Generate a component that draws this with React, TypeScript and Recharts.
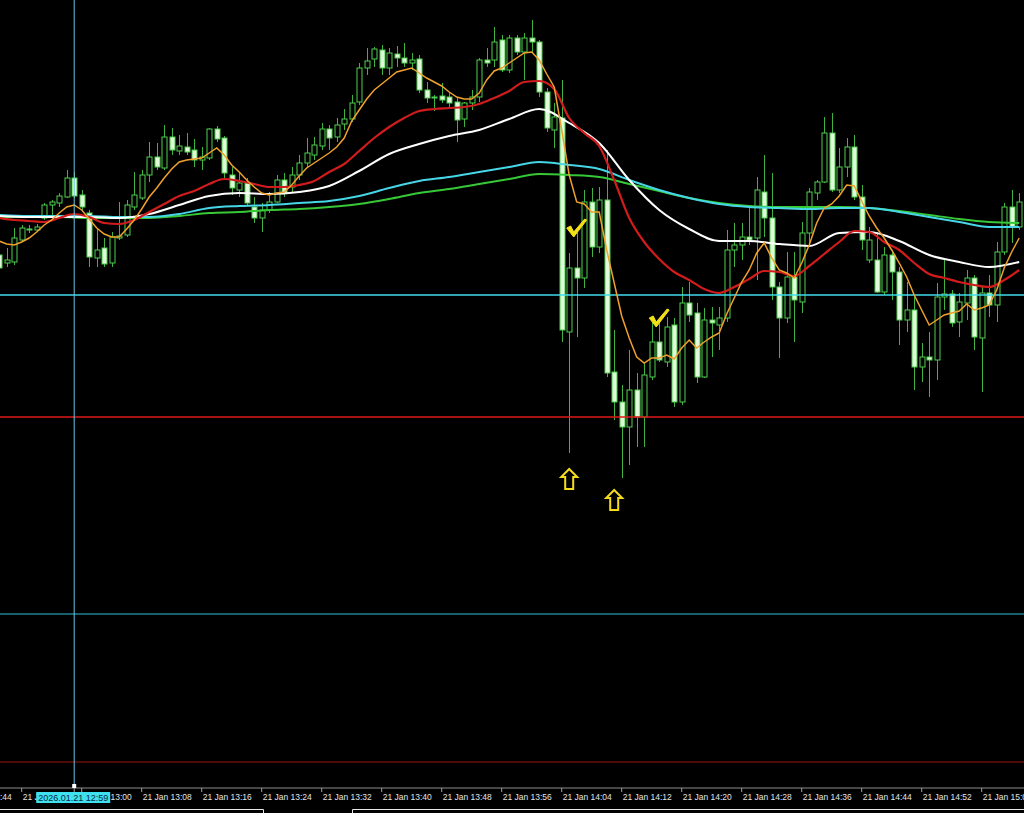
import React from 'react';
import { ComposedChart, Bar, Line, XAxis, YAxis, ReferenceLine, ReferenceDot } from 'recharts';

// ---- 1-minute candles, 21 Jan 12:49 ... 15:05 (index 0..136) ----
const openP = [
  4774.5, 4773.7, 4773.8, 4776.0, 4777.0, 4777.0, 4778.2, 4779.5, 4779.7, 4780.3,
  4782.2, 4780.5, 4778.7, 4774.2, 4775.2, 4773.7, 4776.2, 4776.5, 4779.3, 4780.2,
  4782.5, 4784.3, 4783.2, 4786.3, 4784.9, 4785.3, 4785.0, 4784.0, 4784.2, 4787.1,
  4786.2, 4782.5, 4781.0, 4781.7, 4779.3, 4778.2, 4779.0, 4779.8, 4782.0, 4781.3,
  4782.5, 4783.7, 4784.5, 4785.4, 4787.1, 4786.3, 4787.6, 4788.1, 4789.8, 4793.2,
  4794.1, 4795.0, 4793.2, 4794.6, 4794.2, 4793.7, 4794.1, 4791.0, 4790.3, 4790.4,
  4790.3, 4789.8, 4788.1, 4789.7, 4790.3, 4794.0, 4794.0, 4796.0, 4793.0, 4796.2,
  4794.8, 4796.2, 4795.8, 4790.8, 4787.0, 4788.2, 4766.8, 4773.2, 4772.2, 4779.8,
  4775.3, 4780.0, 4762.8, 4759.8, 4757.3, 4761.0, 4758.3, 4762.3, 4765.8, 4763.8,
  4767.5, 4759.8, 4769.7, 4768.7, 4762.3, 4768.0, 4767.5, 4768.2, 4775.0, 4775.5,
  4776.3, 4776.2, 4780.8, 4778.2, 4771.3, 4768.2, 4772.3, 4769.8, 4776.7, 4780.7,
  4781.8, 4786.7, 4781.0, 4783.3, 4785.3, 4780.3, 4774.0, 4774.0, 4770.8, 4774.5,
  4772.8, 4768.0, 4769.0, 4763.3, 4764.3, 4764.0, 4770.3, 4770.6, 4767.8, 4769.7,
  4772.2, 4766.2, 4770.7, 4769.5, 4774.8, 4779.3, 4777.3,
];
const highP = [
  4775.2, 4775.2, 4777.2, 4777.5, 4777.5, 4777.6, 4779.7, 4780.0, 4780.7, 4783.0,
  4782.8, 4781.0, 4779.0, 4777.2, 4776.2, 4776.8, 4779.8, 4780.0, 4782.8, 4783.0,
  4785.8, 4785.7, 4787.5, 4787.2, 4786.5, 4786.7, 4786.1, 4785.3, 4787.2, 4787.4,
  4786.4, 4783.3, 4782.7, 4782.2, 4780.3, 4779.7, 4780.8, 4782.5, 4782.7, 4783.3,
  4784.5, 4786.2, 4786.3, 4787.7, 4787.5, 4788.2, 4789.1, 4790.5, 4793.7, 4795.2,
  4795.3, 4795.5, 4795.2, 4795.4, 4795.7, 4794.7, 4794.5, 4791.8, 4790.5, 4791.7,
  4790.8, 4790.3, 4789.8, 4791.0, 4794.2, 4795.2, 4797.3, 4796.5, 4796.5, 4796.5,
  4796.7, 4798.0, 4796.0, 4791.2, 4789.7, 4792.0, 4774.7, 4777.3, 4781.0, 4781.2,
  4781.3, 4785.0, 4767.0, 4761.5, 4765.0, 4762.7, 4763.7, 4767.7, 4767.7, 4768.3,
  4768.2, 4771.3, 4771.8, 4769.7, 4769.2, 4769.3, 4769.3, 4777.0, 4777.7, 4777.7,
  4779.3, 4782.3, 4784.5, 4782.7, 4771.8, 4774.8, 4774.8, 4777.8, 4781.2, 4782.0,
  4788.3, 4788.7, 4785.2, 4786.2, 4786.5, 4781.5, 4777.3, 4776.8, 4775.3, 4775.0,
  4773.3, 4771.8, 4770.3, 4765.7, 4766.8, 4771.7, 4774.0, 4771.0, 4770.7, 4773.0,
  4772.5, 4771.3, 4772.5, 4775.8, 4779.7, 4781.0, 4780.7,
];
const lowP = [
  4772.8, 4773.3, 4773.5, 4775.8, 4776.7, 4776.8, 4778.0, 4778.5, 4779.3, 4780.2,
  4780.2, 4779.0, 4773.3, 4773.3, 4773.3, 4773.3, 4776.0, 4776.3, 4779.0, 4780.0,
  4781.8, 4783.0, 4783.0, 4784.5, 4784.5, 4784.5, 4783.3, 4783.0, 4784.0, 4785.8,
  4782.2, 4780.5, 4780.3, 4779.5, 4777.7, 4776.8, 4778.7, 4779.7, 4780.3, 4780.7,
  4782.0, 4783.3, 4784.0, 4785.0, 4785.0, 4785.8, 4787.0, 4787.8, 4789.5, 4792.5,
  4793.3, 4792.5, 4792.5, 4793.3, 4793.3, 4793.0, 4790.7, 4789.7, 4788.9, 4789.7,
  4789.3, 4785.8, 4787.3, 4789.0, 4789.8, 4793.3, 4793.3, 4792.8, 4792.7, 4794.5,
  4792.0, 4794.7, 4790.3, 4786.8, 4785.2, 4765.8, 4754.7, 4766.3, 4771.2, 4774.3,
  4774.7, 4762.3, 4758.0, 4752.2, 4753.5, 4755.3, 4755.3, 4762.0, 4763.8, 4763.3,
  4759.3, 4759.5, 4767.8, 4761.7, 4762.2, 4764.3, 4765.0, 4767.8, 4773.3, 4774.0,
  4775.5, 4772.0, 4776.3, 4770.0, 4764.2, 4767.7, 4765.8, 4768.7, 4775.7, 4780.0,
  4781.7, 4780.8, 4780.7, 4782.3, 4780.0, 4775.0, 4773.7, 4770.7, 4770.5, 4770.0,
  4765.5, 4766.8, 4761.0, 4761.8, 4760.3, 4762.0, 4769.0, 4767.3, 4766.3, 4768.0,
  4765.0, 4760.8, 4768.3, 4767.8, 4774.5, 4775.7, 4777.0,
];
const closeP = [
  4773.2, 4774.0, 4776.2, 4777.2, 4777.1, 4777.3, 4779.5, 4779.8, 4780.4, 4782.2,
  4780.4, 4779.3, 4774.3, 4775.0, 4773.6, 4776.3, 4776.4, 4779.5, 4780.5, 4782.5,
  4784.3, 4783.3, 4786.3, 4785.0, 4785.4, 4784.8, 4784.0, 4784.3, 4787.1, 4786.1,
  4782.7, 4781.2, 4781.7, 4779.7, 4778.2, 4779.0, 4779.8, 4782.0, 4780.7, 4782.5,
  4783.7, 4784.7, 4785.5, 4787.1, 4786.2, 4787.5, 4788.1, 4789.7, 4793.2, 4793.9,
  4795.1, 4793.2, 4794.7, 4794.2, 4793.7, 4794.0, 4791.0, 4790.2, 4790.2, 4790.0,
  4789.7, 4788.0, 4789.7, 4790.3, 4794.0, 4793.7, 4795.8, 4793.0, 4796.2, 4794.8,
  4796.2, 4795.8, 4790.8, 4787.2, 4788.3, 4767.0, 4773.2, 4772.2, 4779.8, 4775.3,
  4780.0, 4762.7, 4759.8, 4757.3, 4761.0, 4758.3, 4762.5, 4765.8, 4764.0, 4767.3,
  4759.8, 4769.7, 4768.5, 4762.3, 4768.0, 4767.7, 4768.2, 4775.0, 4775.5, 4776.3,
  4776.0, 4781.0, 4778.2, 4771.3, 4768.2, 4772.3, 4770.0, 4776.7, 4780.8, 4781.8,
  4786.7, 4781.0, 4783.3, 4785.3, 4780.3, 4776.0, 4776.0, 4770.8, 4774.5, 4772.8,
  4768.0, 4769.0, 4763.3, 4764.3, 4764.0, 4770.3, 4770.6, 4767.7, 4769.8, 4772.2,
  4766.3, 4770.7, 4769.5, 4774.8, 4779.3, 4777.3, 4779.8,
];

// fast MA (orange), one value per candle
const orangeMA = [
  4775.9, 4775.6, 4775.5, 4775.8, 4776.2, 4776.8, 4777.5, 4778.0, 4778.7, 4779.3,
  4779.5, 4779.0, 4778.1, 4777.2, 4776.6, 4776.3, 4776.3, 4777.1, 4778.0, 4779.1,
  4780.3, 4781.2, 4782.2, 4783.1, 4783.8, 4784.0, 4784.1, 4784.2, 4784.7, 4785.2,
  4784.5, 4783.5, 4782.8, 4782.0, 4781.3, 4780.7, 4780.5, 4780.7, 4780.8, 4781.5,
  4782.4, 4783.2, 4783.7, 4784.2, 4784.7, 4785.3, 4786.2, 4787.9, 4789.0, 4790.1,
  4791.0, 4791.6, 4792.2, 4792.8, 4793.0, 4793.2, 4792.7, 4792.2, 4791.8, 4791.4,
  4790.8, 4790.3, 4790.1, 4790.1, 4790.7, 4792.0, 4792.9, 4793.2, 4793.7, 4794.2,
  4794.7, 4794.8, 4794.0, 4792.6, 4791.3, 4787.0, 4782.5, 4779.8, 4779.6, 4778.8,
  4778.8, 4775.0, 4771.7, 4768.4, 4766.2, 4764.3, 4763.7, 4764.2, 4764.2, 4764.5,
  4764.1, 4765.2, 4766.0, 4765.2, 4765.8, 4766.3, 4766.7, 4768.6, 4770.2, 4771.8,
  4773.0, 4774.7, 4775.7, 4774.2, 4773.0, 4772.7, 4772.2, 4773.7, 4775.5, 4777.7,
  4779.2, 4779.6, 4780.4, 4781.5, 4781.4, 4779.9, 4778.4, 4777.2, 4776.2, 4775.0,
  4773.7, 4772.3, 4770.5, 4769.0, 4767.5, 4768.0, 4768.5, 4768.7, 4768.9, 4769.6,
  4769.0, 4769.2, 4769.5, 4771.0, 4773.2, 4774.8, 4776.2,
];

// red MA, sampled every 2 candles
const RED_STEP = 2;
const redMA = [
  4778.2, 4778.0, 4777.9, 4777.8, 4778.2, 4778.6, 4778.3, 4777.7, 4777.6, 4778.0,
  4778.8, 4779.6, 4780.4, 4780.9, 4781.6, 4782.1, 4781.9, 4781.6, 4781.3, 4781.3,
  4781.5, 4781.9, 4782.8, 4783.6, 4784.9, 4786.2, 4787.3, 4788.2, 4788.9, 4789.1,
  4789.2, 4789.3, 4789.6, 4790.2, 4790.9, 4791.8, 4791.9, 4791.1, 4788.2, 4786.7,
  4785.4, 4782.0, 4778.2, 4775.8, 4774.1, 4772.8, 4772.0, 4771.1, 4770.7, 4771.3,
  4772.1, 4772.9, 4772.8, 4772.4, 4773.4, 4774.6, 4775.8, 4776.9, 4776.8, 4775.8,
  4775.0, 4773.7, 4772.6, 4772.2, 4771.8, 4771.5, 4771.3, 4772.0, 4773.0,
];

// slower MAs, sampled every 4 candles
const SLOW_STEP = 4;
const whiteMA = [
  4778.4, 4778.3, 4778.3, 4778.3, 4778.2, 4778.6, 4779.5, 4780.4, 4780.7, 4780.6,
  4780.8, 4781.4, 4782.9, 4784.6, 4785.6, 4786.4, 4787.0, 4788.1, 4789.1, 4787.7,
  4785.7, 4782.0, 4779.0, 4777.1, 4775.9, 4775.9, 4775.6, 4775.4, 4776.7, 4776.8,
  4775.9, 4774.5, 4773.8, 4773.3, 4773.8,
];
const cyanMA = [
  4778.5, 4778.4, 4778.4, 4778.4, 4778.3, 4778.3, 4778.6, 4779.2, 4779.4, 4779.5,
  4779.7, 4779.9, 4780.4, 4781.2, 4781.9, 4782.3, 4782.8, 4783.3, 4783.8, 4783.5,
  4783.1, 4782.0, 4781.0, 4780.2, 4779.6, 4779.3, 4779.2, 4779.1, 4779.2, 4779.2,
  4778.8, 4778.3, 4777.8, 4777.3, 4777.3,
];
const greenMA = [
  4778.3, 4778.3, 4778.3, 4778.2, 4778.2, 4778.2, 4778.4, 4778.7, 4778.8, 4779.0,
  4779.1, 4779.3, 4779.6, 4780.1, 4780.7, 4781.1, 4781.6, 4782.1, 4782.6, 4782.5,
  4782.3, 4781.6, 4780.9, 4780.2, 4779.7, 4779.4, 4779.3, 4779.3, 4779.3, 4779.2,
  4778.9, 4778.5, 4778.1, 4777.8, 4777.7,
];

// horizontal levels
const levelCyan1 = 4770.5;
const levelRed1 = 4758.3;
const levelCyan2 = 4738.6;
const levelRed2 = 4723.8;

// time axis
const tickIdx = [-5, 3, 11, 19, 27, 35, 43, 51, 59, 67, 75, 83, 91, 99, 107, 115, 123, 131];
const tickLabels = [
  '21 Jan 12:44', '21 Jan 12:52', '21 Jan 13:00', '21 Jan 13:08', '21 Jan 13:16', '21 Jan 13:24',
  '21 Jan 13:32', '21 Jan 13:40', '21 Jan 13:48', '21 Jan 13:56', '21 Jan 14:04', '21 Jan 14:12',
  '21 Jan 14:20', '21 Jan 14:28', '21 Jan 14:36', '21 Jan 14:44', '21 Jan 14:52', '21 Jan 15:00',
];
const crossIdx = 10;
const crossLabel = '2026.01.21 12:59';

// annotations
const arrowIdx = [76, 82];
const arrowPrice = [4752.1, 4750.0];
const checkIdx = [77, 88];
const checkPrice = [4777.2, 4768.2];

const X_DOMAIN: [number, number] = [0.1067, 136.64];
const Y_DOMAIN: [number, number] = [4721.2, 4800];

const rows = openP.map((o, i) => {
  const r: any = { i, open: o, high: highP[i], low: lowP[i], close: closeP[i], orange: orangeMA[i] };
  if (i % RED_STEP === 0) r.red = redMA[i / RED_STEP];
  if (i % SLOW_STEP === 0) {
    r.white = whiteMA[i / SLOW_STEP];
    r.cyan = cyanMA[i / SLOW_STEP];
    r.green = greenMA[i / SLOW_STEP];
  }
  return r;
});

const WICK = '#3fb23f';
const OUTLINE = '#4fcf4f';
const BEAR_FILL = '#e2fadc';
const FONT = "'Liberation Sans', Arial, sans-serif";

const Candle = (props: any) => {
  const { x, y, width, height, payload } = props;
  if (!payload || !isFinite(x) || !isFinite(y)) return null;
  const top = Math.min(y, y + height);
  const bot = Math.max(y, y + height);
  const { open, close, high, low } = payload;
  const span = high - low;
  const py = (v: number) => (span === 0 ? top : top + ((high - v) / span) * (bot - top));
  const cx = Math.round(x + width / 2) + 0.5;
  const bull = close >= open;
  const bTop = py(Math.max(open, close));
  const bBot = py(Math.min(open, close));
  const bodyH = Math.max(1, bBot - bTop);
  return (
    <g>
      <line x1={cx} x2={cx} y1={top} y2={bot} stroke={WICK} strokeWidth={1} />
      <rect x={cx - 2.5} y={bTop} width={5} height={bodyH} fill={bull ? '#000' : BEAR_FILL} stroke={OUTLINE} strokeWidth={1} />
    </g>
  );
};

// axis ticks; the crosshair date box is drawn as the last tick so it lies on top of the labels
const TimeTick = (props: any) => {
  const { x, payload } = props;
  if (payload.value === crossIdx) {
    return (
      <g>
        <rect x={x - 2} y={784} width={4} height={4} fill="#ffffff" />
        <rect x={x - 38} y={792} width={74} height={11} fill="#3fe0f0" />
        <text x={x - 1} y={801} fill="#0a2a40" fontSize={9} fontFamily={FONT} textAnchor="middle">
          {crossLabel}
        </text>
      </g>
    );
  }
  const k = tickIdx.indexOf(payload.value);
  if (k < 0) return null;
  return (
    <text x={x + 1} y={800} fill="#e4e4e4" fontSize={9.5} fontFamily={FONT} textAnchor="start" textLength={49} lengthAdjust="spacingAndGlyphs">
      {tickLabels[k]}
    </text>
  );
};

const ArrowShape = (props: any) => {
  const { cx, cy } = props;
  if (!isFinite(cx) || !isFinite(cy)) return null;
  const d = `M ${cx} ${cy - 10} L ${cx + 8} ${cy - 2} L ${cx + 4} ${cy - 2} L ${cx + 4} ${cy + 10} L ${cx - 4} ${cy + 10} L ${cx - 4} ${cy - 2} L ${cx - 8} ${cy - 2} Z`;
  return <path d={d} fill="none" stroke="#f4dc1c" strokeWidth={2} strokeLinejoin="miter" />;
};

const CheckShape = (props: any) => {
  const { cx, cy } = props;
  if (!isFinite(cx) || !isFinite(cy)) return null;
  const d = `M ${cx - 10} ${cy} L ${cx - 6} ${cy - 2} L ${cx - 3} ${cy + 4} L ${cx + 8} ${cy - 9} L ${cx + 10} ${cy - 8} L ${cx - 3} ${cy + 9} Z`;
  return <path d={d} fill="#f4e018" stroke="#f4e018" strokeWidth={1} strokeLinejoin="round" />;
};

export default function App() {
  return (
    <div style={{ position: 'absolute', left: 0, top: 0, width: 1024, height: 813, background: '#000', overflow: 'hidden' }}>
      <ComposedChart width={1024} height={813} data={rows} margin={{ top: 0, right: 0, bottom: 0, left: 0 }}>
        <XAxis
          dataKey="i"
          type="number"
          domain={X_DOMAIN}
          allowDataOverflow
          ticks={[...tickIdx, crossIdx]}
          interval={0}
          tick={<TimeTick />}
          height={25}
          axisLine={{ stroke: '#8c8c8c' }}
          tickLine={{ stroke: '#a0a0a0' }}
          tickSize={4}
        />
        <YAxis hide type="number" domain={Y_DOMAIN} allowDataOverflow />
        <ReferenceLine y={levelCyan2} stroke="#2fc4d4" strokeWidth={1} />
        <ReferenceLine y={levelRed2} stroke="#a01414" strokeWidth={1} />
        <Bar dataKey={(d: any) => [d.low, d.high]} barSize={6} shape={<Candle />} isAnimationActive={false} />
        <ReferenceLine y={levelCyan1} stroke="#40dcec" strokeWidth={1.5} />
        <ReferenceLine y={levelRed1} stroke="#e01818" strokeWidth={1.5} />
        <Line dataKey="green" type="monotone" stroke="#36c836" strokeWidth={2} dot={false} connectNulls isAnimationActive={false} />
        <Line dataKey="cyan" type="monotone" stroke="#46d6e6" strokeWidth={2} dot={false} connectNulls isAnimationActive={false} />
        <Line dataKey="white" type="monotone" stroke="#ffffff" strokeWidth={2} dot={false} connectNulls isAnimationActive={false} />
        <Line dataKey="red" type="monotone" stroke="#d21c1c" strokeWidth={2.2} dot={false} connectNulls isAnimationActive={false} />
        <Line dataKey="orange" type="linear" stroke="#f0a02c" strokeWidth={1.5} dot={false} isAnimationActive={false} />
        <ReferenceLine x={crossIdx} stroke="#6cc6e4" strokeWidth={1} />
        {arrowIdx.map((ix, k) => (
          <ReferenceDot key={'a' + k} x={ix} y={arrowPrice[k]} r={0} shape={<ArrowShape />} />
        ))}
        {checkIdx.map((ix, k) => (
          <ReferenceDot key={'c' + k} x={ix} y={checkPrice[k]} r={0} shape={<CheckShape />} />
        ))}
      </ComposedChart>
      <svg width={1024} height={813} style={{ position: 'absolute', left: 0, top: 0, pointerEvents: 'none' }}>
        <polyline points="0,809.5 263.5,809.5 263.5,813" fill="none" stroke="#e8e8e8" strokeWidth={1} />
        <polyline points="352.5,813 352.5,809.5 1024,809.5" fill="none" stroke="#e8e8e8" strokeWidth={1} />
      </svg>
    </div>
  );
}
